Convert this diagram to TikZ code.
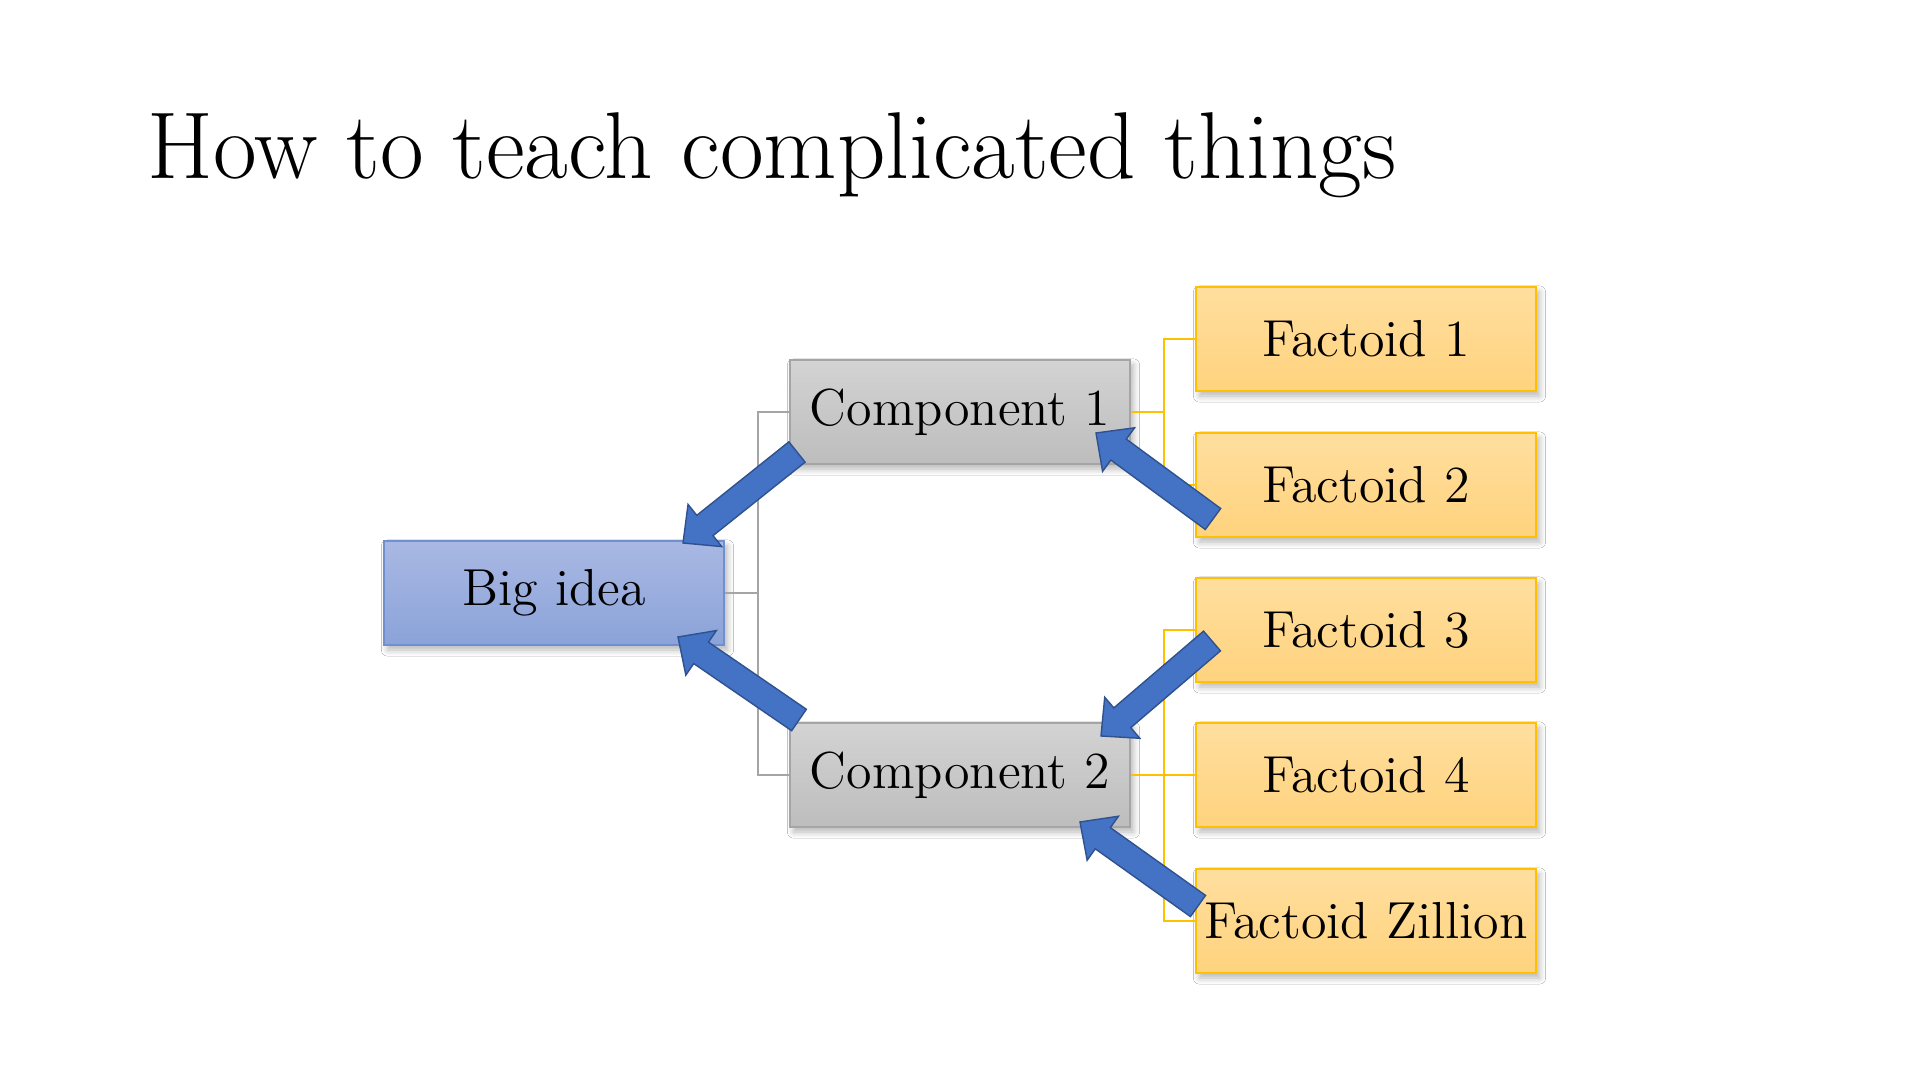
\documentclass[tikz,border=0pt]{standalone}
\usetikzlibrary{calc,shadows.blur}

\definecolor{ideatop}{HTML}{A9B8E3}
\definecolor{ideabot}{HTML}{8BA3D9}
\definecolor{idealine}{HTML}{6F8FCF}
\definecolor{comptop}{HTML}{D3D3D3}
\definecolor{compbot}{HTML}{BDBDBD}
\definecolor{compline}{HTML}{A5A5A5}
\definecolor{facttop}{HTML}{FFDE9E}
\definecolor{factbot}{HTML}{FFD37E}
\definecolor{factline}{HTML}{FFC000}
\definecolor{arrowfill}{HTML}{4472C4}
\definecolor{arrowline}{HTML}{2F528F}

\begin{document}
\begin{tikzpicture}[x=0.01cm,y=-0.01cm,
  box/.style={minimum width=3.4cm,minimum height=1.04cm,inner sep=0pt,
    line width=0.4pt,font=\fontsize{14.8}{17}\selectfont,
    blur shadow={shadow xshift=0.035cm,shadow yshift=-0.05cm,
      shadow blur radius=0.06cm,shadow blur steps=6,shadow opacity=28}},
  ideabox/.style={box,draw=idealine,top color=ideatop,bottom color=ideabot},
  compbox/.style={box,draw=compline,top color=comptop,bottom color=compbot},
  factbox/.style={box,draw=factline,top color=facttop,bottom color=factbot},
  greyline/.style={draw=compline,line width=0.55pt},
  goldline/.style={draw=factline,line width=0.55pt},
  blockarrow/.style={fill=arrowfill,draw=arrowline,line width=0.4pt,line join=miter}]

  \fill[white] (0,0) rectangle (1920,1080);

  % Fat arrow from tail #1 to tip #2
  \def\fatarrow#1#2{%
    \coordinate (hb) at ($(#2)!0.28cm!(#1)$);
    \filldraw[blockarrow]
      ($(#1)!0.13cm!90:(#2)$) -- ($(hb)!0.13cm!90:(#2)$)
      -- ($(hb)!0.27cm!90:(#2)$) -- (#2)
      -- ($(hb)!0.27cm!-90:(#2)$) -- ($(hb)!0.13cm!-90:(#2)$)
      -- ($(#1)!0.13cm!-90:(#2)$) -- cycle;}

  % Title
  \node[anchor=base west,inner sep=0pt,font=\fontsize{27}{32}\selectfont]
        (title) at (147,179) {How to teach complicated things};

  % ---- Boxes ----
  \node[ideabox] (big) at (554,593) {Big idea};

  \node[compbox] (comp1) at (960,412) {Component 1};
  \node[compbox] (comp2) at (960,775) {Component 2};

  \node[factbox] (fact1) at (1366,339) {Factoid 1};
  \node[factbox] (fact2) at (1366,485) {Factoid 2};
  \node[factbox] (fact3) at (1366,630) {Factoid 3};
  \node[factbox] (fact4) at (1366,775) {Factoid 4};
  \node[factbox] (factz) at (1366,921) {Factoid Zillion};

  % ---- Tree lines ----
  \draw[greyline] (big.east) -- ++(33,0) |- (comp1.west);
  \draw[greyline] (big.east) -- ++(33,0) |- (comp2.west);

  \draw[goldline] (comp1.east) -- ++(33,0) |- (fact1.west);
  \draw[goldline] (comp1.east) -- ++(33,0) |- (fact2.west);
  \draw[goldline] (comp2.east) -- ++(33,0) |- (fact3.west);
  \draw[goldline] (comp2.east) -- (fact4.west);
  \draw[goldline] (comp2.east) -- ++(33,0) |- (factz.west);

  % ---- Blue arrows ----
  \coordinate (c1tail) at (797,452);  % Component 1 -> Big idea
  \coordinate (c1tip)  at (683,543);
  \coordinate (c2tail) at (799,720);  % Component 2 -> Big idea
  \coordinate (c2tip)  at (678,637);
  \coordinate (f2tail) at (1213,519); % Factoid 2 -> Component 1
  \coordinate (f2tip)  at (1096,433);
  \coordinate (f3tail) at (1212,641); % Factoid 3 -> Component 2
  \coordinate (f3tip)  at (1101,736);
  \coordinate (fztail) at (1198,906); % Factoid Zillion -> Component 2
  \coordinate (fztip)  at (1080,822);

  \fatarrow{c1tail}{c1tip}
  \fatarrow{c2tail}{c2tip}
  \fatarrow{f2tail}{f2tip}
  \fatarrow{f3tail}{f3tip}
  \fatarrow{fztail}{fztip}
\end{tikzpicture}
\end{document}
